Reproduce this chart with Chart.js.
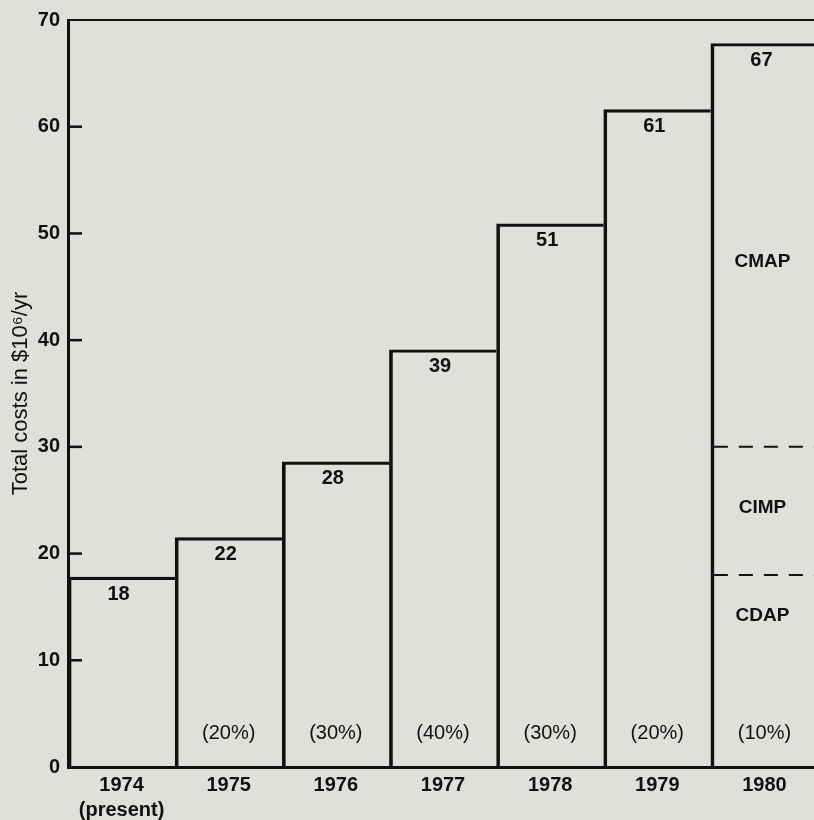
<!DOCTYPE html>
<html>
<head>
<meta charset="utf-8">
<title>Total costs 1974-1980</title>
<script src="https://cdn.jsdelivr.net/npm/chart.js@4/dist/chart.umd.min.js"></script>
<style>
  html, body { margin: 0; padding: 0; overflow: hidden; background: #dfe0dc; }
  canvas { display: block; }
</style>
</head>
<body>
<canvas id="costs" width="822" height="820"></canvas>
<script>
// Values
const years = ['1974', '1975', '1976', '1977', '1978', '1979', '1980']
const yearNotes = ['(present)', '', '', '', '', '', '']
const totals = [17.8, 21.5, 28.6, 39.1, 50.9, 61.6, 67.8]
const totalLabels = ['18', '22', '28', '39', '51', '61', '67']
const growthLabels = ['', '(20%)', '(30%)', '(40%)', '(30%)', '(20%)', '(10%)']
const growthLabelValue = 3.1
const programs = ['CMAP', 'CIMP', 'CDAP']
const programLabelValues = [47.3, 24.3, 14.2]
const programSplits = [30, 18]
const yMin = 0
const yMax = 70
const yStep = 10

const ink = '#111'
const family = '"Liberation Sans", Arial, Helvetica, sans-serif'

const labels = years.map((y, i) => yearNotes[i] ? [y, yearNotes[i]] : y)

// Annotations: value labels, growth rates, inner ticks and 1980 split
const annotations = {
  id: 'annotations',
  afterDatasetsDraw(chart) {
    const ctx = chart.ctx
    const yScale = chart.scales.y
    const area = chart.chartArea
    const bars = chart.getDatasetMeta(0).data

    ctx.save()
    ctx.fillStyle = ink
    ctx.strokeStyle = ink
    ctx.textAlign = 'center'
    ctx.textBaseline = 'middle'

    // inner tick marks on the y axis
    ctx.lineWidth = 2.5
    yScale.ticks.forEach(t => {
      if (t.value === yMin || t.value === yMax) return
      const py = yScale.getPixelForValue(t.value)
      ctx.beginPath()
      ctx.moveTo(area.left, py)
      ctx.lineTo(area.left + 14, py)
      ctx.stroke()
    })

    bars.forEach((bar, i) => {
      ctx.font = 'bold 20px ' + family
      ctx.fillText(totalLabels[i], bar.x - 3, bar.y + 17)
      if (growthLabels[i]) {
        ctx.font = '20px ' + family
        ctx.fillText(growthLabels[i], bar.x, yScale.getPixelForValue(growthLabelValue))
      }
    })

    // split of the last year
    const last = bars[bars.length - 1]
    ctx.font = 'bold 19px ' + family
    programs.forEach((p, i) => {
      ctx.fillText(p, last.x - 2, yScale.getPixelForValue(programLabelValues[i]))
    })
    ctx.lineWidth = 2
    ctx.setLineDash([14, 11])
    programSplits.forEach(v => {
      const py = yScale.getPixelForValue(v)
      ctx.beginPath()
      ctx.moveTo(last.x - last.width / 2 + 3, py)
      ctx.lineTo(area.right, py)
      ctx.stroke()
    })
    ctx.restore()
  }
}

new Chart(document.getElementById('costs'), {
  type: 'bar',
  data: {
    labels: labels,
    datasets: [{
      data: totals,
      xAxisID: 'x',
      yAxisID: 'y',
      backgroundColor: 'rgba(0,0,0,0)',
      borderColor: ink,
      borderWidth: { left: 3, top: 2.5, right: 0, bottom: 0 },
      borderSkipped: false,
      categoryPercentage: 1,
      barPercentage: 1
    }]
  },
  options: {
    responsive: false,
    animation: false,
    layout: { padding: { top: 20, right: 4, bottom: 0, left: 0 } },
    plugins: {
      legend: { display: false },
      tooltip: { enabled: false }
    },
    scales: {
      x: {
        type: 'category',
        position: 'bottom',
        grid: { display: false, drawTicks: false },
        border: { display: true, color: ink, width: 3 },
        ticks: {
          color: ink,
          padding: 6,
          maxRotation: 0,
          font: { family: family, size: 20, weight: 'bold', lineHeight: 1.25 }
        },
        afterFit(scale) { scale.height = 53 }
      },
      x2: {
        type: 'category',
        position: 'top',
        grid: { display: false, drawTicks: false },
        border: { display: true, color: ink, width: 2 },
        ticks: { display: false },
        afterFit(scale) { scale.height = 0 }
      },
      y: {
        min: yMin,
        max: yMax,
        grid: { display: false, drawTicks: false },
        border: { display: true, color: ink, width: 3 },
        ticks: {
          stepSize: yStep,
          color: ink,
          padding: 8,
          font: { family: family, size: 20, weight: 'bold' }
        },
        title: {
          display: true,
          text: 'Total costs in $10⁶/yr',
          color: ink,
          padding: { top: 8, bottom: 0 },
          font: { family: family, size: 22 }
        },
        afterFit(scale) { scale.width = 68 }
      }
    }
  },
  plugins: [annotations]
})
</script>
</body>
</html>
